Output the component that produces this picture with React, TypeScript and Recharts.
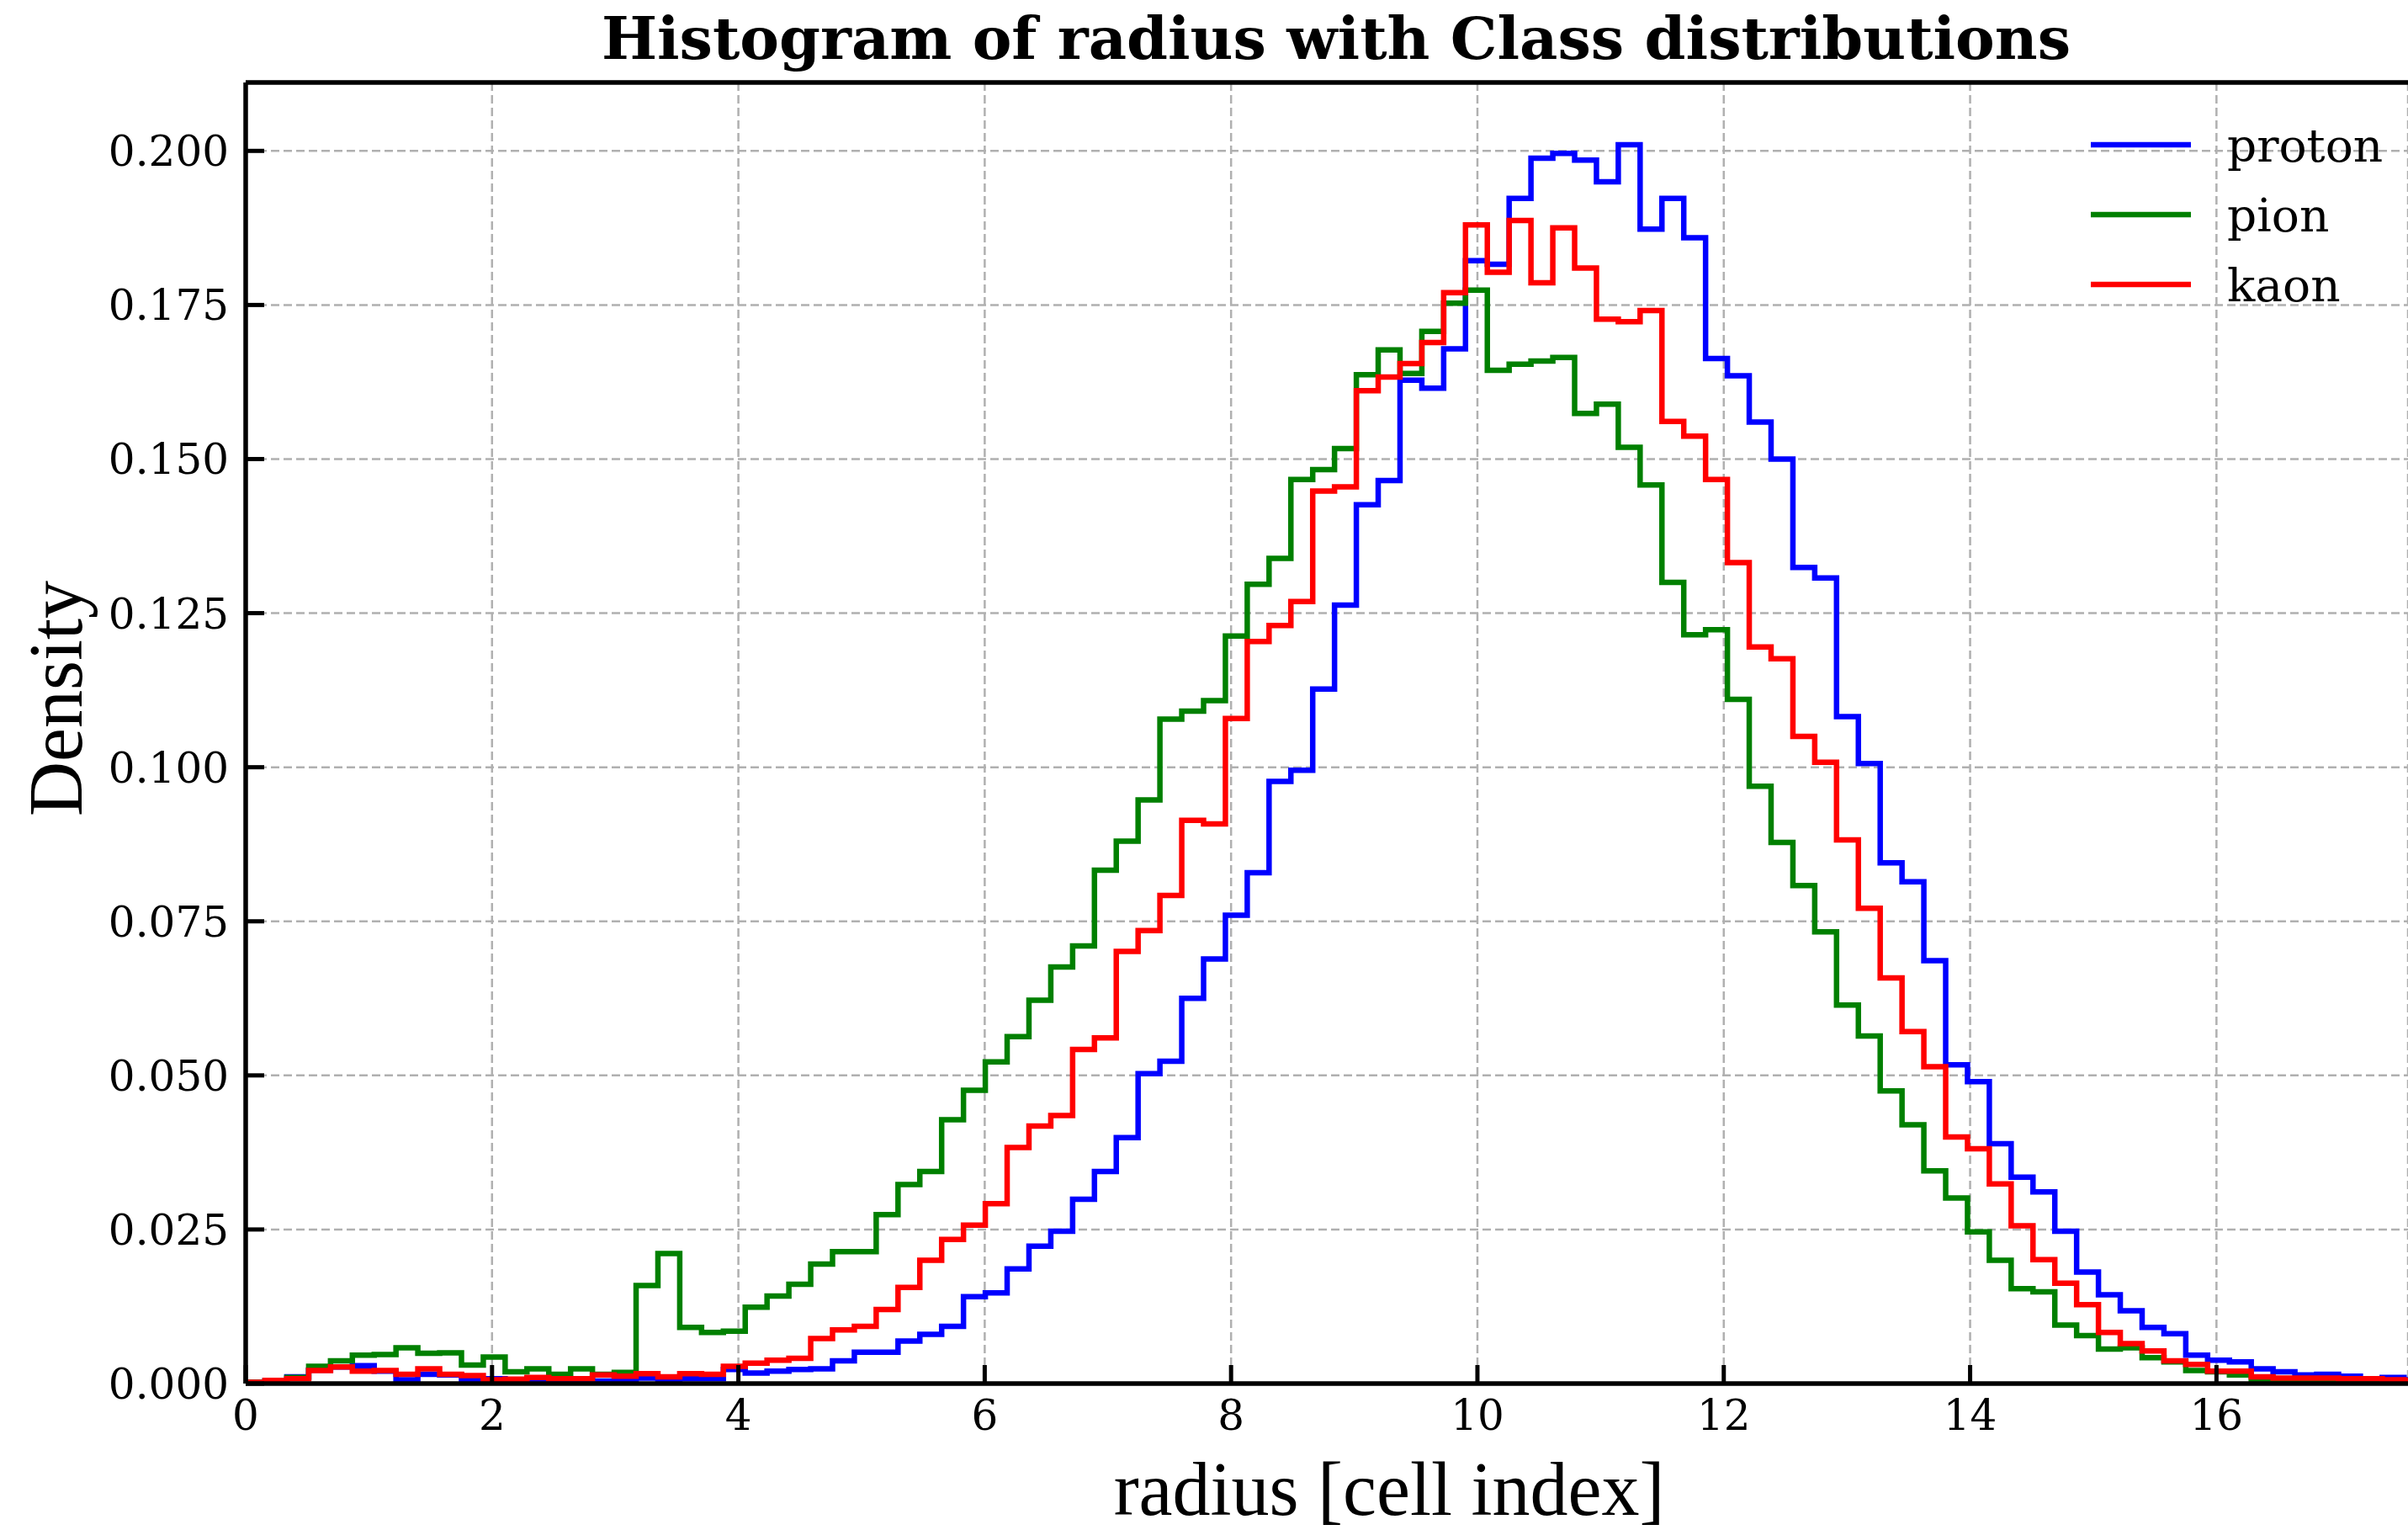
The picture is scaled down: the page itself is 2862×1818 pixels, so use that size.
import React from 'react';
import { LineChart, Line, XAxis, YAxis, CartesianGrid, ReferenceLine, Legend } from 'recharts';

// Histogram binning (100 equal-width bins)
const BIN_START = -0.02;
const BIN_WIDTH = 0.1772;

const proton = [
  0.0002, 0.0005, 0.0011, 0.0022, 0.0027, 0.0029, 0.0020, 0.0006, 0.0015, 0.0014,
  0.0005, 0.0008, 0.0004, 0.0005, 0.0004, 0.0005, 0.0004, 0.0005, 0.0009, 0.0005,
  0.0008, 0.0008, 0.0023, 0.0017, 0.0020, 0.0023, 0.0024, 0.0037, 0.0051, 0.0051,
  0.0069, 0.0080, 0.0093, 0.0141, 0.0147, 0.0186, 0.0223, 0.0247, 0.0299, 0.0344,
  0.0399, 0.0503, 0.0523, 0.0625, 0.0689, 0.0760, 0.0829, 0.0977, 0.0995, 0.1127,
  0.1263, 0.1426, 0.1465, 0.1628, 0.1615, 0.1679, 0.1822, 0.1816, 0.1923, 0.1988,
  0.1996, 0.1985, 0.1950, 0.2010, 0.1873, 0.1923, 0.1859, 0.1663, 0.1635, 0.1560,
  0.1500, 0.1324, 0.1307, 0.1082, 0.1006, 0.0845, 0.0814, 0.0686, 0.0517, 0.0490,
  0.0389, 0.0335, 0.0311, 0.0247, 0.0181, 0.0144, 0.0118, 0.0091, 0.0081, 0.0046,
  0.0038, 0.0035, 0.0024, 0.0019, 0.0014, 0.0015, 0.0012, 0.0008, 0.0010, 0.0006,
];

const pion = [
  0.0002, 0.0004, 0.0010, 0.0028, 0.0037, 0.0046, 0.0047, 0.0058, 0.0049, 0.0050,
  0.0030, 0.0043, 0.0019, 0.0024, 0.0015, 0.0024, 0.0015, 0.0018, 0.0159, 0.0211,
  0.0091, 0.0083, 0.0085, 0.0124, 0.0142, 0.0161, 0.0194, 0.0214, 0.0214, 0.0274,
  0.0323, 0.0344, 0.0428, 0.0476, 0.0522, 0.0563, 0.0622, 0.0676, 0.0710, 0.0833,
  0.0880, 0.0947, 0.1078, 0.1091, 0.1108, 0.1213, 0.1297, 0.1339, 0.1467, 0.1483,
  0.1517, 0.1637, 0.1677, 0.1639, 0.1707, 0.1753, 0.1774, 0.1644, 0.1654, 0.1659,
  0.1665, 0.1574, 0.1589, 0.1519, 0.1458, 0.1300, 0.1215, 0.1223, 0.1110, 0.0969,
  0.0878, 0.0808, 0.0733, 0.0614, 0.0564, 0.0475, 0.0420, 0.0345, 0.0301, 0.0246,
  0.0200, 0.0154, 0.0149, 0.0095, 0.0078, 0.0056, 0.0058, 0.0042, 0.0035, 0.0021,
  0.0019, 0.0014, 0.0006, 0.0005, 0.0005, 0.0005, 0.0005, 0.0005, 0.0005, 0.0005,
];

const kaon = [
  0.0002, 0.0005, 0.0008, 0.0021, 0.0027, 0.0020, 0.0021, 0.0015, 0.0024, 0.0015,
  0.0013, 0.0006, 0.0007, 0.0010, 0.0008, 0.0008, 0.0014, 0.0012, 0.0016, 0.0011,
  0.0016, 0.0015, 0.0028, 0.0033, 0.0038, 0.0041, 0.0073, 0.0087, 0.0093, 0.0120,
  0.0156, 0.0200, 0.0234, 0.0257, 0.0292, 0.0383, 0.0418, 0.0435, 0.0542, 0.0561,
  0.0701, 0.0735, 0.0792, 0.0914, 0.0908, 0.1079, 0.1204, 0.1230, 0.1269, 0.1448,
  0.1455, 0.1611, 0.1633, 0.1655, 0.1689, 0.1770, 0.1880, 0.1803, 0.1887, 0.1786,
  0.1875, 0.1810, 0.1727, 0.1723, 0.1741, 0.1561, 0.1537, 0.1467, 0.1332, 0.1195,
  0.1176, 0.1050, 0.1008, 0.0882, 0.0771, 0.0658, 0.0571, 0.0514, 0.0400, 0.0381,
  0.0324, 0.0256, 0.0201, 0.0163, 0.0128, 0.0083, 0.0065, 0.0053, 0.0037, 0.0031,
  0.0020, 0.0020, 0.0011, 0.0009, 0.0009, 0.0009, 0.0008, 0.0008, 0.0006, 0.0005,
];

const seriesNames = ['proton', 'pion', 'kaon'];
const seriesColors = ['#0000ff', '#008000', '#ff0000'];

const xTicks = [0, 2, 4, 6, 8, 10, 12, 14, 16];
const yTicks = [0, 0.025, 0.05, 0.075, 0.1, 0.125, 0.15, 0.175, 0.2];

const X_MAX = 17.555;
const Y_MAX = 0.2111;

const TITLE = 'Histogram of radius with Class distributions';
const X_LABEL = 'radius [cell index]';
const Y_LABEL = 'Density';

function buildRows() {
  const n = proton.length;
  const rows: any[] = [];
  rows.push({ x: BIN_START, proton: 0, pion: 0, kaon: 0 });
  for (let k = 0; k < n; k++) {
    rows.push({ x: BIN_START + k * BIN_WIDTH, proton: proton[k], pion: pion[k], kaon: kaon[k] });
  }
  const end = BIN_START + n * BIN_WIDTH;
  rows.push({ x: end, proton: proton[n - 1], pion: pion[n - 1], kaon: kaon[n - 1] });
  rows.push({ x: end, proton: 0, pion: 0, kaon: 0 });
  return rows;
}

const rows = buildRows();

const XTick = (props: any) => {
  const { x, y, payload } = props;
  return (
    <g>
      <line x1={x} x2={x} y1={y} y2={y - 22} stroke="#000" strokeWidth={5} />
      <text x={x} y={y + 55} textAnchor="middle" fontFamily="DejaVu Serif" fontSize={50} fill="#000">
        {payload.value}
      </text>
    </g>
  );
};

const YTick = (props: any) => {
  const { x, y, payload } = props;
  return (
    <g>
      <line x1={x} x2={x + 22} y1={y} y2={y} stroke="#000" strokeWidth={5} />
      <text x={x - 20} y={y + 18} textAnchor="end" fontFamily="DejaVu Serif" fontSize={50} fill="#000">
        {Number(payload.value).toFixed(3)}
      </text>
    </g>
  );
};

const LegendContent = () => (
  <svg width={392} height={260}>
    {seriesNames.map((name, i) => (
      <g key={name}>
        <line x1={15} x2={134} y1={52 + 83 * i} y2={52 + 83 * i} stroke={seriesColors[i]} strokeWidth={6.5} />
        <text x={177} y={72 + 83 * i} fontFamily="DejaVu Serif" fontSize={55} fill="#000">
          {name}
        </text>
      </g>
    ))}
  </svg>
);

export default function App() {
  return (
    <div style={{ position: 'absolute', left: 0, top: 0, width: 2862, height: 1818, background: '#fff' }}>
      <LineChart
        width={2862}
        height={1818}
        data={rows}
        margin={{ top: 98, right: 0, bottom: 0, left: 0 }}
      >
        <CartesianGrid stroke="#b0b0b0" strokeWidth={2.5} strokeDasharray="10 5" />
        <XAxis
          dataKey="x"
          type="number"
          domain={[0, X_MAX]}
          ticks={xTicks}
          interval={0}
          allowDataOverflow
          height={174}
          axisLine={{ stroke: '#000', strokeWidth: 5.5 }}
          tickLine={false}
          tickSize={0}
          tickMargin={0}
          tick={XTick}
        />
        <YAxis
          type="number"
          domain={[0, Y_MAX]}
          ticks={yTicks}
          interval={0}
          allowDataOverflow
          width={292}
          axisLine={{ stroke: '#000', strokeWidth: 5.5 }}
          tickLine={false}
          tickSize={0}
          tickMargin={0}
          tick={YTick}
        />
        {seriesNames.map((name, i) => (
          <Line
            key={name}
            type="stepAfter"
            dataKey={name}
            name={name}
            stroke={seriesColors[i]}
            strokeWidth={6.5}
            dot={false}
            activeDot={false}
            isAnimationActive={false}
          />
        ))}
        <ReferenceLine y={Y_MAX} stroke="#000" strokeWidth={5.5} />
        <Legend
          layout="vertical"
          align="center"
          verticalAlign="middle"
          wrapperStyle={{ left: 2470, top: 120, width: 392, height: 260 }}
          content={LegendContent}
        />
      </LineChart>
      <svg
        width={2862}
        height={1818}
        style={{ position: 'absolute', left: 0, top: 0, pointerEvents: 'none' }}
      >
        <text x={1588} y={70} textAnchor="middle" fontFamily="DejaVu Serif" fontWeight="bold" fontSize={70} fill="#000">
          {TITLE}
        </text>
        <text x={1651} y={1800} textAnchor="middle" fontFamily="Liberation Serif" fontSize={90} fill="#000">
          {X_LABEL}
        </text>
        <text
          x={97}
          y={830}
          textAnchor="middle"
          fontFamily="Liberation Serif"
          fontSize={90}
          fill="#000"
          transform="rotate(-90 97 830)"
        >
          {Y_LABEL}
        </text>
      </svg>
    </div>
  );
}
